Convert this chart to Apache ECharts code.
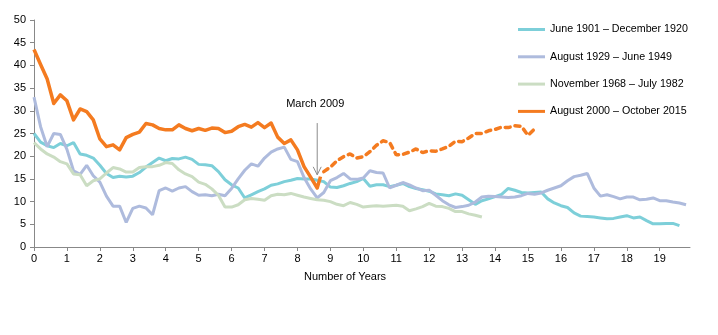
<!DOCTYPE html>
<html>
<head>
<meta charset="utf-8">
<script src="https://cdn.jsdelivr.net/npm/echarts@6/dist/echarts.min.js"></script>
<style>html,body{margin:0;padding:0;background:#fff;}#c{width:718px;height:335px;}</style>
</head>
<body>
<div id="c"></div>
<script>
// Shared time grid (years since start), 0.2-year steps
const years = [0,0.2,0.4,0.6,0.8,1,1.2,1.4,1.6,1.8,2,2.2,2.4,2.6,2.8,3,3.2,3.4,3.6,3.8,
  4,4.2,4.4,4.6,4.8,5,5.2,5.4,5.6,5.8,6,6.2,6.4,6.6,6.8,7,7.2,7.4,7.6,7.8,
  8,8.2,8.4,8.6,8.8,9,9.2,9.4,9.6,9.8,10,10.2,10.4,10.6,10.8,11,11.2,11.4,11.6,11.8,
  12,12.2,12.4,12.6,12.8,13,13.2,13.4,13.6,13.8,14,14.2,14.4,14.6,14.8,15,15.2,15.4,15.6,15.8,
  16,16.2,16.4,16.6,16.8,17,17.2,17.4,17.6,17.8,18,18.2,18.4,18.6,18.8,19,19.2,19.4,19.6,19.8];

const names = ['June 1901 \u2013 December 1920','August 1929 \u2013 June 1949','November 1968 \u2013 July 1982','August 2000 \u2013 October 2015'];

const cyan = [25.0,23.1,22.3,21.9,22.8,22.3,23.0,20.5,20.2,19.6,
  18.0,16.2,15.3,15.6,15.4,15.6,16.4,17.6,18.6,19.6,
  19.0,19.5,19.4,19.8,19.3,18.2,18.1,17.9,16.6,14.8,
  13.7,13.0,10.8,11.5,12.2,12.8,13.6,13.9,14.4,14.7,
  15.1,15.0,15.0,14.7,14.4,13.2,13.1,13.5,14.0,14.4,
  15.1,13.4,13.7,13.7,13.3,13.6,14.0,13.3,12.9,12.6,
  12.3,11.7,11.5,11.3,11.7,11.4,10.4,9.4,10.2,10.6,
  11.1,11.6,12.9,12.5,12.0,11.9,12.0,12.1,10.6,9.7,
  9.1,8.7,7.5,6.8,6.7,6.6,6.4,6.2,6.3,6.6,
  6.9,6.4,6.6,5.8,5.1,5.1,5.2,5.2,4.7];

const lavender = [33.0,26.5,22.1,25.0,24.8,21.5,16.8,16.0,18.0,15.7,
  14.3,11.2,9.0,9.0,5.4,8.5,9.0,8.6,7.1,12.4,
  13.0,12.3,13.0,13.3,12.2,11.4,11.5,11.3,11.6,11.3,
  12.9,15.0,16.9,18.3,17.8,19.6,20.9,21.6,22.0,19.3,
  18.8,15.3,12.8,10.8,12.0,14.6,15.3,16.2,15.0,14.9,
  15.2,16.8,16.4,16.3,13.0,13.6,14.2,13.7,13.0,12.4,
  12.5,11.4,10.2,9.3,8.7,8.9,9.2,9.9,11.0,11.2,
  11.1,11.0,10.9,11.0,11.3,11.8,11.6,11.9,12.5,13.0,
  13.5,14.6,15.5,15.8,16.2,13.0,11.2,11.5,11.1,10.6,
  11.0,11.0,10.4,10.5,10.8,10.2,10.2,9.9,9.7,9.3];

const green = [23.0,21.6,20.5,19.8,18.8,18.3,16.1,15.9,13.5,14.6,
  15.0,16.3,17.5,17.2,16.5,16.5,17.5,17.7,17.7,18.0,
  18.6,18.4,17.0,16.1,15.5,14.3,13.8,12.8,11.4,8.8,
  8.8,9.3,10.4,10.7,10.5,10.3,11.3,11.6,11.5,11.8,
  11.4,11.0,10.7,10.4,10.3,10.0,9.4,9.1,9.8,9.4,
  8.8,9.0,9.1,9.0,9.1,9.2,9.0,8.0,8.4,8.9,
  9.6,9.0,8.9,8.5,7.8,7.8,7.3,7.0,6.6];

// Orange: solid to the March 2009 trough, dashed afterwards
const orangeSolid = [43.5,40.2,37.0,31.6,33.5,32.2,28.0,30.4,29.8,28.0,
  23.8,22.1,22.5,21.4,24.1,24.8,25.3,27.2,26.9,26.1,
  25.8,25.8,26.9,26.1,25.6,26.1,25.7,26.2,26.1,25.2,
  25.5,26.5,27.0,26.4,27.4,26.3,27.3,24.2,22.8,23.6,
  21.4,17.7,15.4,13.0];
const orangeSolidTail = [8.7, 15.5];
const orangeDashedStart = 44; // index into years (8.8)
const orangeDashed = [16.6,17.6,19.0,19.9,20.5,19.6,19.9,21.0,22.4,23.4,
  23.0,20.3,20.4,20.9,21.6,20.8,21.2,21.1,21.6,22.2,
  23.3,23.2,24.0,25.0,25.0,25.6,25.9,26.4,26.3,26.7,
  26.6,24.6,26.0];

const annotation = {text:'March 2009', year:8.6, top:27.3, tip:15.9, label:31.4};

const colors = ['#7DCFD9','#AEBBDD','#CBDDC3','#F47B20'];

function pairs(vals, start) {
  start = start || 0;
  return vals.map((v, i) => [years[start + i], v]);
}

const FONT = 'Liberation Sans, Arial, sans-serif';
const chart = echarts.init(document.getElementById('c'), null, {renderer:'canvas'});

const solidData = pairs(orangeSolid);
solidData.push(orangeSolidTail);

const option = {
  animation: false,
  textStyle: {fontFamily: FONT},
  grid: {left:34, right:28, top:20, bottom:88, containLabel:false},
  legend: {
    data: names,
    orient: 'vertical',
    left: 518,
    top: 24,
    padding: 0,
    icon: 'rect',
    itemWidth: 27,
    itemHeight: 3,
    itemGap: 16.3,
    itemTextGap: 3,
    textStyle: {fontSize:10.7, color:'#000', fontFamily: FONT}
  },
  xAxis: {
    type:'value', min:0, max:19.92, interval:1,
    axisLine:{show:true, lineStyle:{color:'#888', width:1}},
    axisTick:{show:true, length:4, lineStyle:{color:'#888'}},
    axisLabel:{color:'#000', fontSize:11, margin:6, showMaxLabel:false, fontFamily:FONT},
    splitLine:{show:false},
    name:'Number of Years', nameLocation:'middle', nameGap:24,
    nameTextStyle:{color:'#000', fontSize:11, fontFamily:FONT, padding:[0,34,0,0]}
  },
  yAxis: {
    type:'value', min:0, max:50, interval:5,
    axisLine:{show:true, lineStyle:{color:'#888', width:1}},
    axisTick:{show:true, length:4, lineStyle:{color:'#888'}},
    axisLabel:{color:'#000', fontSize:11, margin:8, fontFamily:FONT},
    splitLine:{show:false}
  },
  series: [
    {name:names[0], type:'line', symbol:'none', color:colors[0], lineStyle:{width:3, color:colors[0]}, data:pairs(cyan)},
    {name:names[1], type:'line', symbol:'none', color:colors[1], lineStyle:{width:3, color:colors[1]}, data:pairs(lavender)},
    {name:names[2], type:'line', symbol:'none', color:colors[2], lineStyle:{width:3, color:colors[2]}, data:pairs(green)},
    {name:names[3], type:'line', symbol:'none', color:colors[3], lineStyle:{width:3.5, color:colors[3], join:'round'}, data:solidData, z:4},
    {name:'orange-dashed', type:'line', symbol:'none', color:colors[3], lineStyle:{width:3.5, color:colors[3], type:[5,5], cap:'round'}, data:pairs(orangeDashed, orangeDashedStart), z:4}
  ]
};
chart.setOption(option);

const pTop = chart.convertToPixel({gridIndex:0}, [annotation.year, annotation.top]);
const pTip = chart.convertToPixel({gridIndex:0}, [annotation.year, annotation.tip]);
const pLab = chart.convertToPixel({gridIndex:0}, [annotation.year, annotation.label]);
chart.setOption({
  graphic: [
    {type:'line', shape:{x1:pTop[0], y1:pTop[1], x2:pTip[0], y2:pTip[1]}, style:{stroke:'#8c8c8c', lineWidth:1}, z:10},
    {type:'polyline', shape:{points:[[pTip[0]-4, pTip[1]-8],[pTip[0], pTip[1]],[pTip[0]+4, pTip[1]-8]]}, style:{stroke:'#8c8c8c', lineWidth:1, fill:null}, z:10},
    {type:'text', x:pLab[0]-2, y:pLab[1], style:{text:annotation.text, fill:'#000', font:'11px ' + FONT, align:'center', verticalAlign:'middle'}, z:10}
  ]
});
</script>
</body>
</html>
